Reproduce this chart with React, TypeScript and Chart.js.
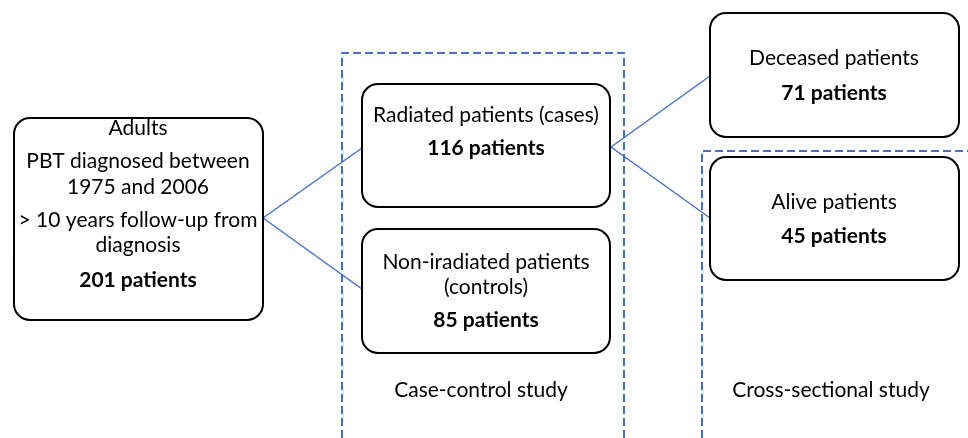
import React, { useEffect, useRef } from "react";
import { Chart, registerables } from "chart.js";

Chart.register(...registerables);

// ---- Data (diagram coordinates in data units of the hidden x/y scales) ----
const nodeNames = ["Adults", "Radiated", "NonIrradiated", "Deceased", "Alive"];
const nodeX0 = [14, 362, 362, 710, 710];
const nodeX1 = [263, 610, 610, 959, 959];
const nodeY0 = [118, 84, 229, 13, 157];
const nodeY1 = [320, 207, 353, 137, 280];

const nodeLines: string[][] = [
  ["Adults", "PBT diagnosed between", "1975 and 2006", "> 10 years follow-up from", "diagnosis", "201 patients"],
  ["Radiated patients (cases)", "116 patients"],
  ["Non-iradiated patients", "(controls)", "85 patients"],
  ["Deceased patients", "71 patients"],
  ["Alive patients", "45 patients"],
];
const nodeLineY: number[][] = [
  [128, 161, 187, 220, 245, 280],
  [115, 148],
  [262, 287, 320],
  [58, 93],
  [202, 236],
];
const nodeCenterX = [138, 486, 486, 834, 834];

const studyLabels = ["Case-control study", "Cross-sectional study"];
const studyLabelX = [481, 831];
const studyLabelY = [390, 390];

// connectors: from -> to
const connFromX = [263, 263, 611, 611];
const connFromY = [218, 218, 147, 147];
const connToX = [362, 362, 710, 710];
const connToY = [148, 289, 76, 218];

// dashed study frames (polylines)
const frameCaseControl = [
  { x: 342, y: 438 },
  { x: 342, y: 53 },
  { x: 624, y: 53 },
  { x: 624, y: 438 },
];
const frameCrossSectional = [
  { x: 702, y: 438 },
  { x: 702, y: 151 },
  { x: 968, y: 151 },
];

const FONT = "Lato, 'Open Sans', sans-serif";
const BLUE = "#4472C4";

const diagramPlugin = {
  id: "diagram",
  afterDatasetsDraw(chart: any) {
    const ctx = chart.ctx as CanvasRenderingContext2D;
    const xs = chart.scales.x;
    const ys = chart.scales.y;
    ctx.save();
    for (let i = 0; i < nodeNames.length; i++) {
      const x0 = xs.getPixelForValue(nodeX0[i]);
      const x1 = xs.getPixelForValue(nodeX1[i]);
      const y0 = ys.getPixelForValue(nodeY0[i]);
      const y1 = ys.getPixelForValue(nodeY1[i]);
      ctx.beginPath();
      (ctx as any).roundRect(x0, y0, x1 - x0, y1 - y0, 16);
      ctx.fillStyle = "#ffffff";
      ctx.fill();
      ctx.lineWidth = 2;
      ctx.strokeStyle = "#000000";
      ctx.stroke();
      const lines = nodeLines[i];
      const cx = xs.getPixelForValue(nodeCenterX[i]);
      ctx.textAlign = "center";
      ctx.textBaseline = "middle";
      ctx.fillStyle = "#000000";
      for (let j = 0; j < lines.length; j++) {
        const bold = j === lines.length - 1;
        ctx.font = (bold ? "bold " : "") + "21px " + FONT;
        ctx.fillText(lines[j], cx, ys.getPixelForValue(nodeLineY[i][j]));
      }
    }
    ctx.font = "21px " + FONT;
    for (let k = 0; k < studyLabels.length; k++) {
      ctx.fillText(
        studyLabels[k],
        xs.getPixelForValue(studyLabelX[k]),
        ys.getPixelForValue(studyLabelY[k])
      );
    }
    ctx.restore();
  },
};

export default function App() {
  const ref = useRef<HTMLCanvasElement | null>(null);
  useEffect(() => {
    if (!ref.current) return;
    const connectorSets = connFromX.map((_, i) => ({
      data: [
        { x: connFromX[i], y: connFromY[i] },
        { x: connToX[i], y: connToY[i] },
      ],
      showLine: true,
      borderColor: BLUE,
      borderWidth: 1.5,
      pointRadius: 0,
      fill: false,
    }));
    const frameSets = [frameCaseControl, frameCrossSectional].map((pts) => ({
      data: pts,
      showLine: true,
      borderColor: BLUE,
      borderWidth: 2,
      borderDash: [8, 4],
      pointRadius: 0,
      fill: false,
    }));
    const chart = new Chart(ref.current, {
      type: "scatter",
      data: { datasets: [...frameSets, ...connectorSets] as any },
      options: {
        animation: false,
        responsive: true,
        maintainAspectRatio: false,
        layout: { padding: 0 },
        plugins: { legend: { display: false }, tooltip: { enabled: false } },
        events: [],
        scales: {
          x: { type: "linear", min: 0, max: 968, display: false },
          y: { type: "linear", min: 0, max: 438, reverse: true, display: false },
        },
      },
      plugins: [diagramPlugin],
    });
    return () => chart.destroy();
  }, []);
  return (
    <div style={{ position: "fixed", left: 0, top: 0, width: 968, height: 438, background: "#fff" }}>
      <canvas ref={ref} />
    </div>
  );
}
